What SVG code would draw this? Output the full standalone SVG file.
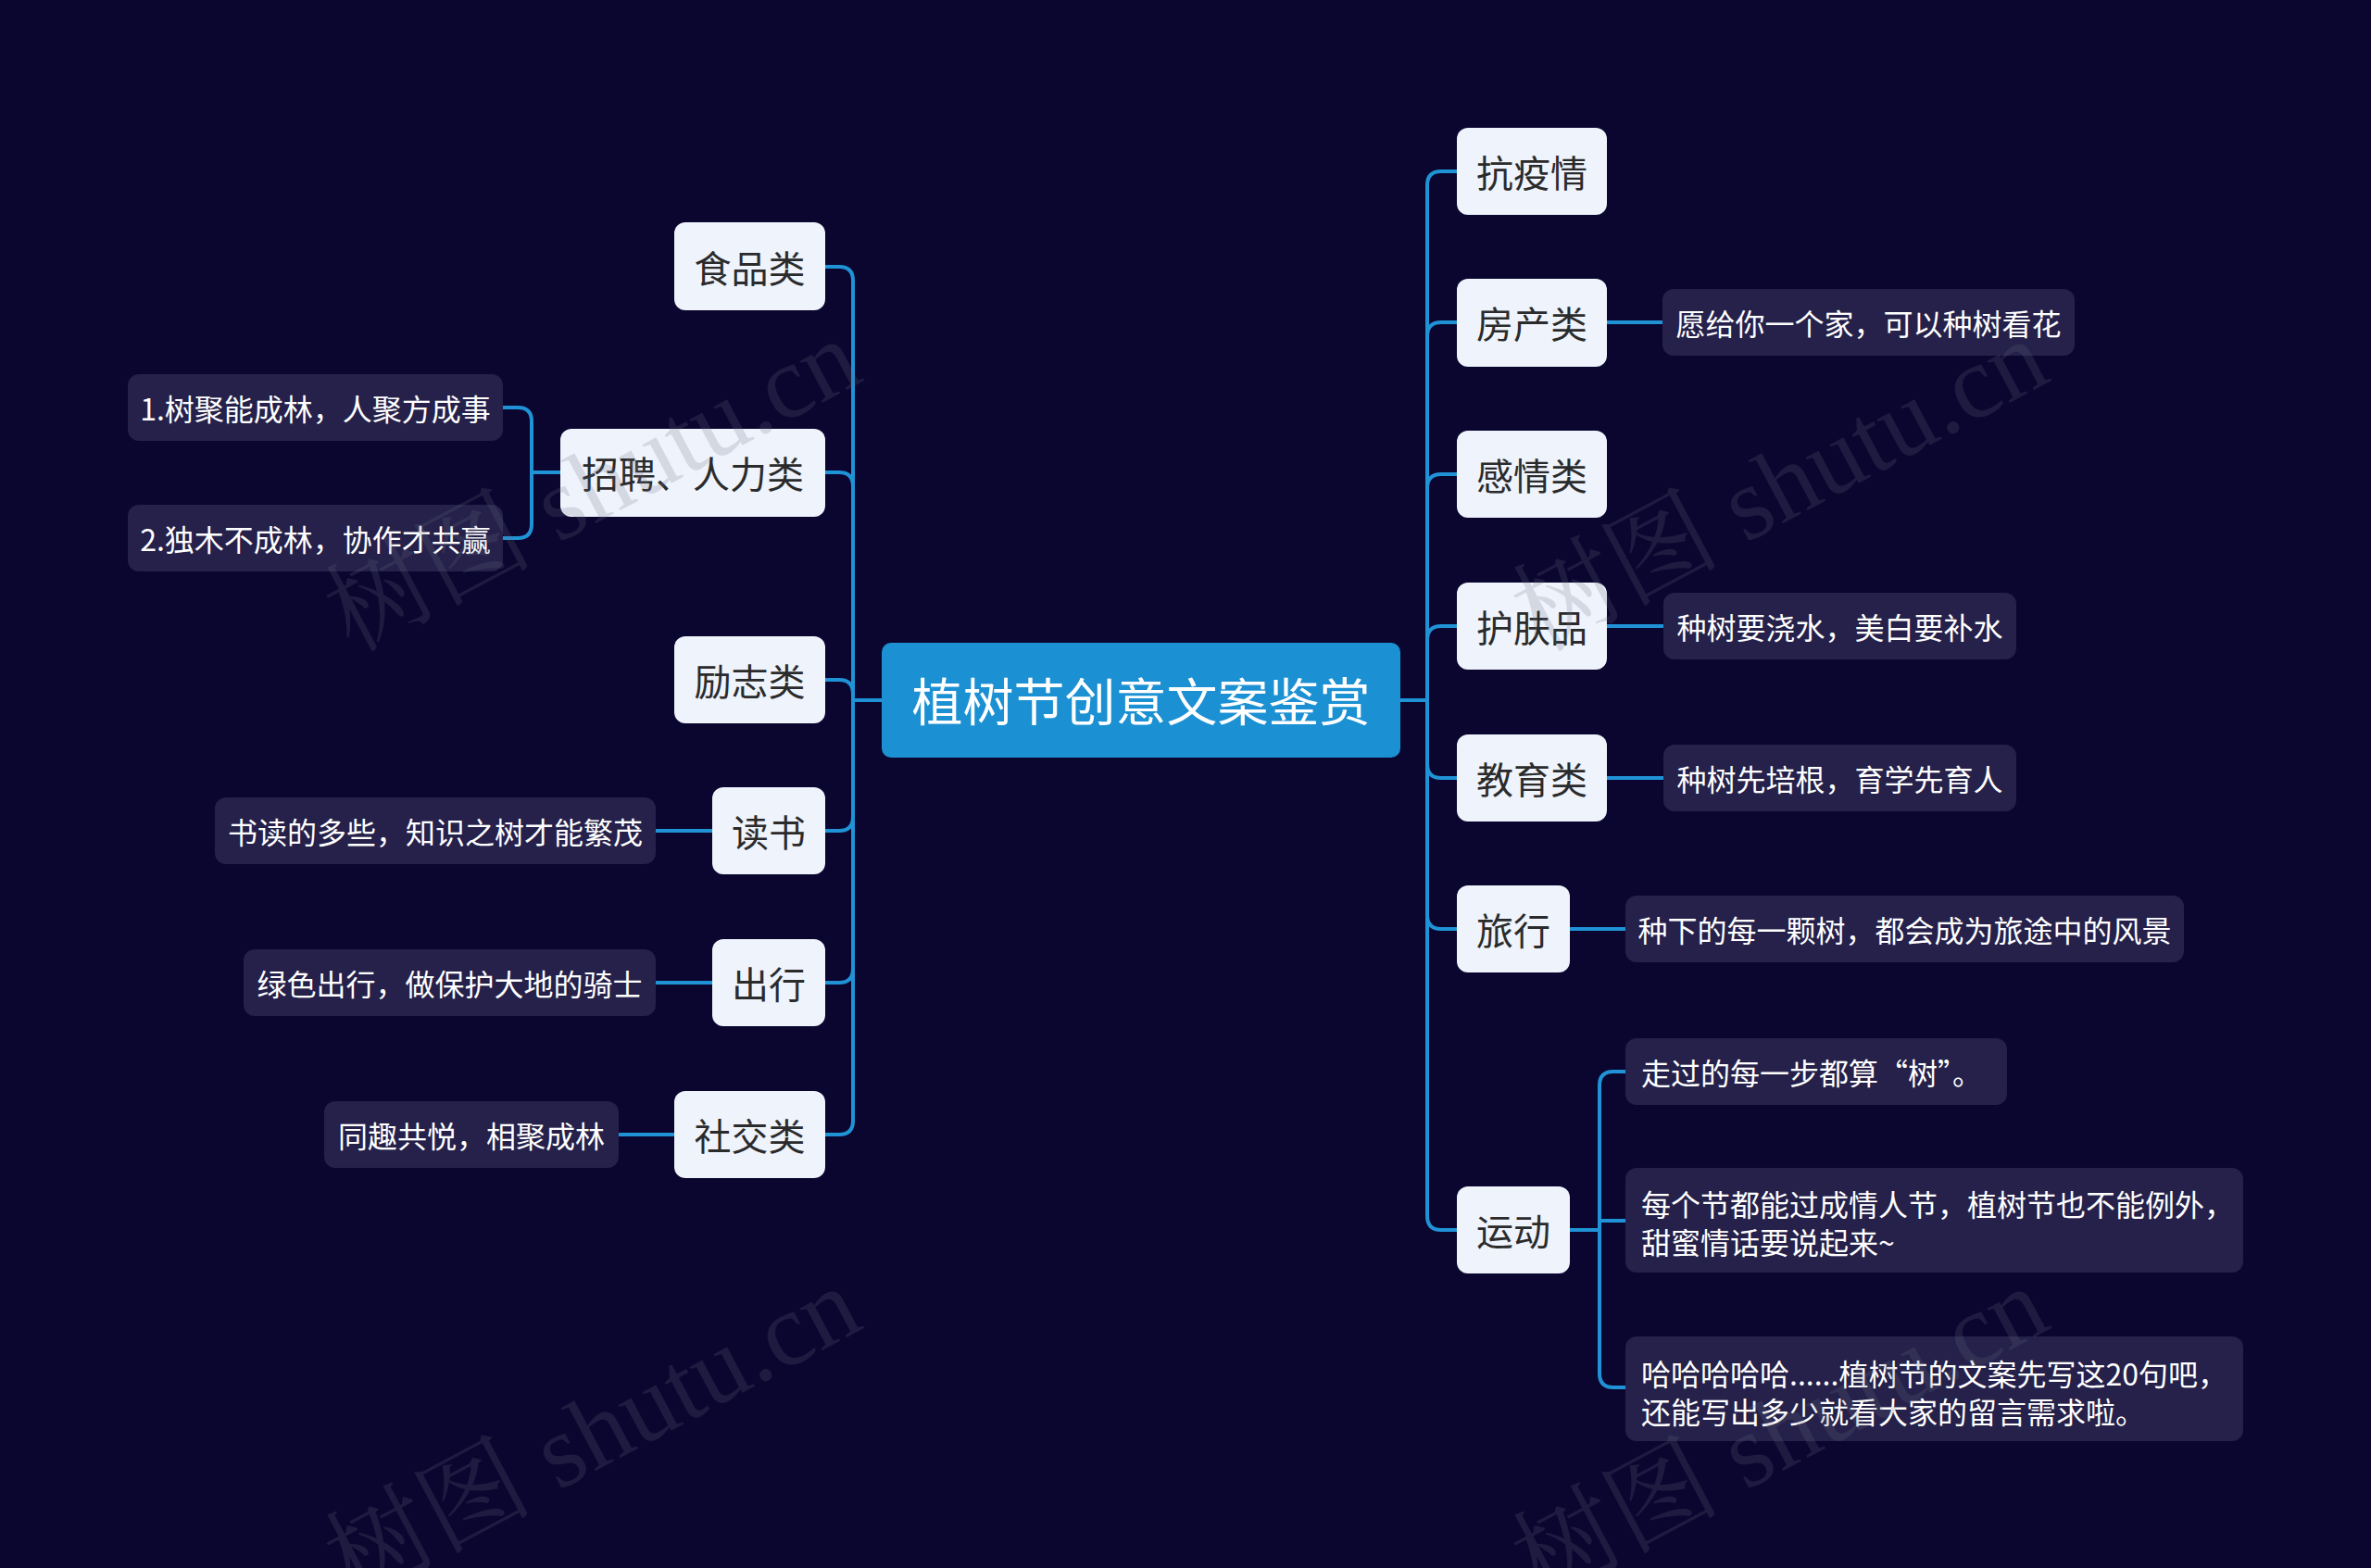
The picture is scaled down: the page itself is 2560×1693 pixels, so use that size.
<svg xmlns="http://www.w3.org/2000/svg" width="2560" height="1693" viewBox="0 0 2560 1693">
<style>
.bg{fill:#0a0630}
.root rect{fill:#1b90d3}
.root text{fill:#ffffff;font-size:55px}
.l1 rect{fill:#eef3fc}
.l1 text{fill:#2b2b2b;font-size:40px}
.l2 rect{fill:#25214a}
.l2 text{fill:#ffffff;font-size:32px}
text{font-family:"Noto Sans CJK SC","Noto Sans",sans-serif;dominant-baseline:central}
.c{text-anchor:middle}
.lk path{fill:none;stroke:#2093d6;stroke-width:4;stroke-linecap:round}
.wm{font-family:"Liberation Serif","Noto Serif CJK SC","Noto Sans CJK SC",serif;font-size:112px;fill:#707080;fill-opacity:0.2;dominant-baseline:auto}
</style>
<rect class="bg" x="0" y="0" width="2560" height="1693"/>
<g id="connectors" class="lk">
<path d="M952,756 H921 V303 Q921,288 906,288 H891"/>
<path d="M952,756 H921 V525 Q921,510 906,510 H891"/>
<path d="M952,756 H921 V749 Q921,734 906,734 H891"/>
<path d="M952,756 H921 V882 Q921,897 906,897 H891"/>
<path d="M952,756 H921 V1046 Q921,1061 906,1061 H891"/>
<path d="M952,756 H921 V1210 Q921,1225 906,1225 H891"/>
<path d="M605,510 H574 V455 Q574,440 559,440 H543"/>
<path d="M605,510 H574 V566 Q574,581 559,581 H543"/>
<path d="M769,897 H708"/>
<path d="M769,1061 H708"/>
<path d="M727,1225 H668"/>
<path d="M1512,756 H1541 V200 Q1541,185 1556,185 H1573"/>
<path d="M1512,756 H1541 V363 Q1541,348 1556,348 H1573"/>
<path d="M1512,756 H1541 V527 Q1541,512 1556,512 H1573"/>
<path d="M1512,756 H1541 V691 Q1541,676 1556,676 H1573"/>
<path d="M1512,756 H1541 V825 Q1541,840 1556,840 H1573"/>
<path d="M1512,756 H1541 V988 Q1541,1003 1556,1003 H1573"/>
<path d="M1512,756 H1541 V1313 Q1541,1328 1556,1328 H1573"/>
<path d="M1734,348 H1795"/>
<path d="M1734,676 H1796"/>
<path d="M1734,840 H1796"/>
<path d="M1695,1003 H1755"/>
<path d="M1694,1328 H1727 V1172 Q1727,1157 1742,1157 H1755"/>
<path d="M1694,1328 H1727 V1318 H1755"/>
<path d="M1694,1328 H1727 V1483 Q1727,1498 1742,1498 H1755"/>
</g>
<g id="root" class="root"><rect x="952" y="694" width="560" height="124" rx="10"/><text class="c" x="1232" y="754">植树节创意文案鉴赏</text></g>
<g id="n-food" class="l1"><rect x="728" y="240" width="163" height="95" rx="12"/><text class="c" x="809.5" y="288">食品类</text></g>
<g id="n-hr" class="l1"><rect x="605" y="463" width="286" height="95" rx="12"/><text class="c" x="748" y="510">招聘、人力类</text></g>
<g id="n-lz" class="l1"><rect x="728" y="687" width="163" height="94" rx="12"/><text class="c" x="809.5" y="734">励志类</text></g>
<g id="n-read" class="l1"><rect x="769" y="850" width="122" height="94" rx="12"/><text class="c" x="830" y="897">读书</text></g>
<g id="n-travel-l" class="l1"><rect x="769" y="1014" width="122" height="94" rx="12"/><text class="c" x="830" y="1061">出行</text></g>
<g id="n-social" class="l1"><rect x="728" y="1178" width="163" height="94" rx="12"/><text class="c" x="809.5" y="1225">社交类</text></g>
<g id="n-hr1" class="l2"><rect x="138" y="404" width="405" height="72" rx="12"/><text class="c" x="340.5" y="440">1.树聚能成林，人聚方成事</text></g>
<g id="n-hr2" class="l2"><rect x="138" y="545" width="405" height="72" rx="12"/><text class="c" x="340.5" y="581">2.独木不成林，协作才共赢</text></g>
<g id="n-read1" class="l2"><rect x="232" y="861" width="476" height="72" rx="12"/><text class="c" x="470" y="897">书读的多些，知识之树才能繁茂</text></g>
<g id="n-travel1" class="l2"><rect x="263" y="1025" width="445" height="72" rx="12"/><text class="c" x="485.5" y="1061">绿色出行，做保护大地的骑士</text></g>
<g id="n-social1" class="l2"><rect x="350" y="1189" width="318" height="72" rx="12"/><text class="c" x="509" y="1225">同趣共悦，相聚成林</text></g>
<g id="n-kyq" class="l1"><rect x="1573" y="138" width="162" height="94" rx="12"/><text class="c" x="1654" y="185">抗疫情</text></g>
<g id="n-fc" class="l1"><rect x="1573" y="301" width="162" height="95" rx="12"/><text class="c" x="1654" y="348">房产类</text></g>
<g id="n-gq" class="l1"><rect x="1573" y="465" width="162" height="94" rx="12"/><text class="c" x="1654" y="512">感情类</text></g>
<g id="n-hf" class="l1"><rect x="1573" y="629" width="162" height="94" rx="12"/><text class="c" x="1654" y="676">护肤品</text></g>
<g id="n-jy" class="l1"><rect x="1573" y="793" width="162" height="94" rx="12"/><text class="c" x="1654" y="840">教育类</text></g>
<g id="n-lx" class="l1"><rect x="1573" y="956" width="122" height="94" rx="12"/><text class="c" x="1634" y="1003">旅行</text></g>
<g id="n-yd" class="l1"><rect x="1573" y="1281" width="122" height="94" rx="12"/><text class="c" x="1634" y="1328">运动</text></g>
<g id="n-fc1" class="l2"><rect x="1795" y="312" width="445" height="72" rx="12"/><text class="c" x="2017.5" y="348">愿给你一个家，可以种树看花</text></g>
<g id="n-hf1" class="l2"><rect x="1796" y="640" width="381" height="72" rx="12"/><text class="c" x="1986.5" y="676">种树要浇水，美白要补水</text></g>
<g id="n-jy1" class="l2"><rect x="1796" y="804" width="381" height="72" rx="12"/><text class="c" x="1986.5" y="840">种树先培根，育学先育人</text></g>
<g id="n-lx1" class="l2"><rect x="1755" y="967" width="603" height="72" rx="12"/><text class="c" x="2056.5" y="1003">种下的每一颗树，都会成为旅途中的风景</text></g>
<g id="n-yd1" class="l2"><rect x="1755" y="1121" width="412" height="72" rx="12"/><text x="1772" y="1157">走过的每一步都算“树”。</text></g>
<g id="n-yd2" class="l2"><rect x="1755" y="1261" width="667" height="113" rx="12"/><text x="1772" y="1299">每个节都能过成情人节，植树节也不能例外，</text><text x="1772" y="1340">甜蜜情话要说起来~</text></g>
<g id="n-yd3" class="l2"><rect x="1755" y="1443" width="667" height="113" rx="12"/><text x="1772" y="1482">哈哈哈哈哈......植树节的文案先写这20句吧，</text><text x="1772" y="1523">还能写出多少就看大家的留言需求啦。</text></g>
<g id="watermarks">
<text class="wm" transform="translate(380,705) rotate(-28)">树图 shutu.cn</text>
<text class="wm" transform="translate(1662,705) rotate(-28)">树图 shutu.cn</text>
<text class="wm" transform="translate(380,1728) rotate(-28)">树图 shutu.cn</text>
<text class="wm" transform="translate(1662,1728) rotate(-28)">树图 shutu.cn</text>
</g>
</svg>
